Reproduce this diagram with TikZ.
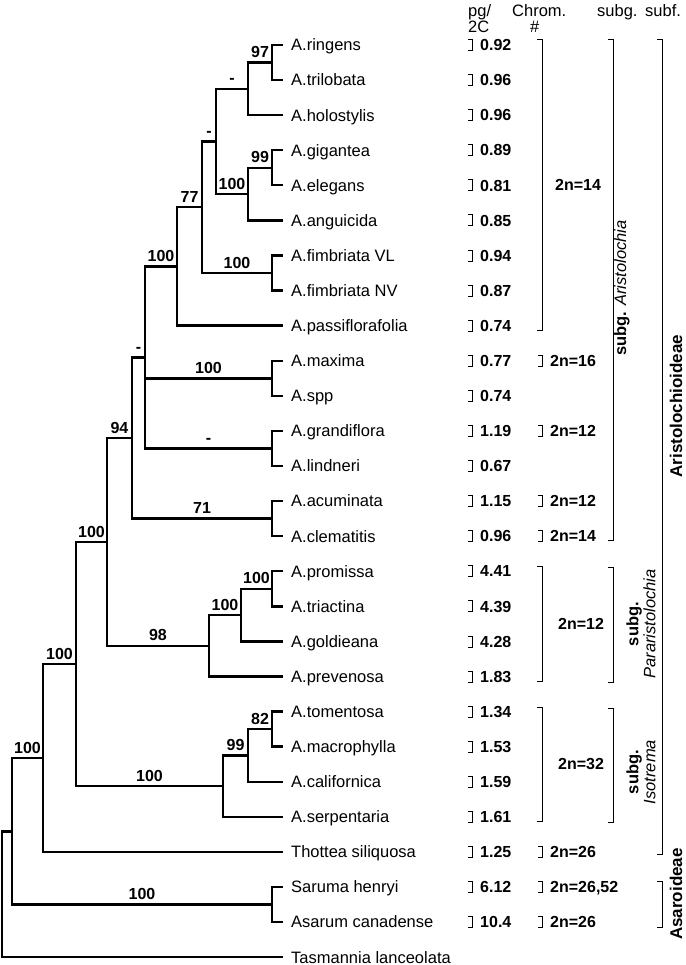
\documentclass[tikz,border=0pt]{standalone}
\usepackage{fontspec}
\setmainfont{Liberation Sans}

\begin{document}
\begin{tikzpicture}[x=1pt,y=-1pt,
  branch/.style={line width=2.4pt},
  brk/.style={line width=1pt},
  brtick/.style={line width=0.8pt},
  taxon/.style={anchor=west,inner xsep=8pt,inner ysep=0pt,text height=11.8pt,text depth=0pt,font=\fontsize{16.5}{19}\selectfont},
  supp/.style={anchor=south,inner sep=0pt,yshift=3.8pt,text height=11.5pt,text depth=0pt,font=\bfseries\fontsize{16}{19}\selectfont},
  valtext/.style={anchor=west,inner sep=0pt,text height=11.5pt,text depth=0pt,font=\bfseries\fontsize{16}{19}\selectfont},
  headtext/.style={anchor=base west,inner sep=0pt,font=\fontsize{16.5}{19}\selectfont},
  subglab/.style={rotate=90,align=center,inner sep=0pt,font=\fontsize{16.5}{17}\selectfont},
  subflab/.style={rotate=90,inner sep=0pt,font=\bfseries\fontsize{17}{20}\selectfont},
  pics/valbr/.style={code={
    \draw[brtick] (-4,-5.5) -- (0,-5.5) -- (0,5.5) -- (-4,5.5);
    \node[valtext] (-t) at (8,0) {#1};}}
]
\useasboundingbox (0,0) rectangle (685,965);

\node[headtext] (hpg) at (468,17) {pg/};
\node[headtext] (h2c) at (468,33) {2C};
\node[headtext] (hchrom) at (512,17) {Chrom.};
\node[headtext] (hnum) at (530,33) {\#};
\node[headtext] (hsubg) at (597,17) {subg.};
\node[headtext] (hsubf) at (645,17) {subf.};

% taxa
\node[taxon] (ringens) at (283,45) {A.ringens};
\node[taxon] (trilobata) at (283,80.1) {A.trilobata};
\node[taxon] (holostylis) at (283,115.2) {A.holostylis};
\node[taxon] (gigantea) at (283,150.2) {A.gigantea};
\node[taxon] (elegans) at (283,185.3) {A.elegans};
\node[taxon] (anguicida) at (283,220.4) {A.anguicida};
\node[taxon] (fimbVL) at (283,255.5) {A.fimbriata VL};
\node[taxon] (fimbNV) at (283,290.6) {A.fimbriata NV};
\node[taxon] (passiflorafolia) at (283,325.6) {A.passiflorafolia};
\node[taxon] (maxima) at (283,360.7) {A.maxima};
\node[taxon] (spp) at (283,395.8) {A.spp};
\node[taxon] (grandiflora) at (283,430.9) {A.grandiflora};
\node[taxon] (lindneri) at (283,466) {A.lindneri};
\node[taxon] (acuminata) at (283,501) {A.acuminata};
\node[taxon] (clematitis) at (283,536.1) {A.clematitis};
\node[taxon] (promissa) at (283,571.2) {A.promissa};
\node[taxon] (triactina) at (283,606.3) {A.triactina};
\node[taxon] (goldieana) at (283,641.4) {A.goldieana};
\node[taxon] (prevenosa) at (283,676.4) {A.prevenosa};
\node[taxon] (tomentosa) at (283,711.5) {A.tomentosa};
\node[taxon] (macrophylla) at (283,746.6) {A.macrophylla};
\node[taxon] (californica) at (283,781.7) {A.californica};
\node[taxon] (serpentaria) at (283,816.8) {A.serpentaria};
\node[taxon] (thottea) at (283,851.8) {Thottea siliquosa};
\node[taxon] (saruma) at (283,886.9) {Saruma henryi};
\node[taxon] (asarum) at (283,922) {Asarum canadense};
\node[taxon] (tasmannia) at (283,957.1) {Tasmannia lanceolata};

% internal nodes
\coordinate (c1) at (272,62.6);
\coordinate (c2) at (248,88.9);
\coordinate (c3) at (272,167.8);
\coordinate (c4) at (248,194.1);
\coordinate (c5) at (216,141.5);
\coordinate (c6) at (272,273.1);
\coordinate (c7) at (202,207.3);
\coordinate (c8) at (177,266.5);
\coordinate (c9) at (272,378.3);
\coordinate (c10) at (272,448.5);
\coordinate (c11) at (145,357.5);
\coordinate (c12) at (272,518.6);
\coordinate (c13) at (132,438.1);
\coordinate (c14) at (272,588.8);
\coordinate (c15) at (241,615.1);
\coordinate (c16) at (209,645.8);
\coordinate (c17) at (107,542);
\coordinate (c18) at (272,729.1);
\coordinate (c19) at (248,755.4);
\coordinate (c20) at (223,786.1);
\coordinate (c21) at (76,664.1);
\coordinate (c22) at (43,758);
\coordinate (c23) at (272,904.5);
\coordinate (c24) at (12,831.3);
\coordinate (root) at (2,894.2);

\draw[branch] (c1) |- (ringens.west);
\draw[branch] (c1) |- (trilobata.west);
\draw[branch] (c2) |- node[supp,pos=.75] (l1) {97} (c1);
\draw[branch] (c2) |- (holostylis.west);
\draw[branch] (c3) |- (gigantea.west);
\draw[branch] (c3) |- (elegans.west);
\draw[branch] (c4) |- node[supp,pos=.75] (l3) {99} (c3);
\draw[branch] (c4) |- (anguicida.west);
\draw[branch] (c5) |- node[supp,pos=.75] (l2) {-} (c2);
\draw[branch] (c5) |- node[supp,pos=.75] (l4) {100} (c4);
\draw[branch] (c6) |- (fimbVL.west);
\draw[branch] (c6) |- (fimbNV.west);
\draw[branch] (c7) |- node[supp,pos=.75] (l5) {-} (c5);
\draw[branch] (c7) |- node[supp,pos=.75] (l6) {100} (c6);
\draw[branch] (c8) |- node[supp,pos=.75] (l7) {77} (c7);
\draw[branch] (c8) |- (passiflorafolia.west);
\draw[branch] (c9) |- (maxima.west);
\draw[branch] (c9) |- (spp.west);
\draw[branch] (c10) |- (grandiflora.west);
\draw[branch] (c10) |- (lindneri.west);
\draw[branch] (c11) |- node[supp,pos=.75] (l8) {100} (c8);
\draw[branch] (c11) |- node[supp,pos=.75] (l9) {100} (c9);
\draw[branch] (c11) |- node[supp,pos=.75] (l10) {-} (c10);
\draw[branch] (c12) |- (acuminata.west);
\draw[branch] (c12) |- (clematitis.west);
\draw[branch] (c13) |- node[supp,pos=.75] (l11) {-} (c11);
\draw[branch] (c13) |- node[supp,pos=.75] (l12) {71} (c12);
\draw[branch] (c14) |- (promissa.west);
\draw[branch] (c14) |- (triactina.west);
\draw[branch] (c15) |- node[supp,pos=.75] (l14) {100} (c14);
\draw[branch] (c15) |- (goldieana.west);
\draw[branch] (c16) |- node[supp,pos=.75] (l15) {100} (c15);
\draw[branch] (c16) |- (prevenosa.west);
\draw[branch] (c17) |- node[supp,pos=.75] (l13) {94} (c13);
\draw[branch] (c17) |- node[supp,pos=.75] (l16) {98} (c16);
\draw[branch] (c18) |- (tomentosa.west);
\draw[branch] (c18) |- (macrophylla.west);
\draw[branch] (c19) |- node[supp,pos=.75] (l18) {82} (c18);
\draw[branch] (c19) |- (californica.west);
\draw[branch] (c20) |- node[supp,pos=.75] (l19) {99} (c19);
\draw[branch] (c20) |- (serpentaria.west);
\draw[branch] (c21) |- node[supp,pos=.75] (l17) {100} (c17);
\draw[branch] (c21) |- node[supp,pos=.75] (l20) {100} (c20);
\draw[branch] (c22) |- node[supp,pos=.75] (l21) {100} (c21);
\draw[branch] (c22) |- (thottea.west);
\draw[branch] (c23) |- (saruma.west);
\draw[branch] (c23) |- (asarum.west);
\draw[branch] (c24) |- node[supp,pos=.75] (l22) {100} (c22);
\draw[branch] (c24) |- node[supp,pos=.75] (l23) {100} (c23);
\draw[branch] (root) |- (c24);
\draw[branch] (root) |- (tasmannia.west);

% pg/2C
\pic (g1) at (472,45) {valbr=0.92};
\pic (g2) at (472,80.1) {valbr=0.96};
\pic (g3) at (472,115.2) {valbr=0.96};
\pic (g4) at (472,150.2) {valbr=0.89};
\pic (g5) at (472,185.3) {valbr=0.81};
\pic (g6) at (472,220.4) {valbr=0.85};
\pic (g7) at (472,255.5) {valbr=0.94};
\pic (g8) at (472,290.6) {valbr=0.87};
\pic (g9) at (472,325.6) {valbr=0.74};
\pic (g10) at (472,360.7) {valbr=0.77};
\pic (g11) at (472,395.8) {valbr=0.74};
\pic (g12) at (472,430.9) {valbr=1.19};
\pic (g13) at (472,466) {valbr=0.67};
\pic (g14) at (472,501) {valbr=1.15};
\pic (g15) at (472,536.1) {valbr=0.96};
\pic (g16) at (472,571.2) {valbr=4.41};
\pic (g17) at (472,606.3) {valbr=4.39};
\pic (g18) at (472,641.4) {valbr=4.28};
\pic (g19) at (472,676.4) {valbr=1.83};
\pic (g20) at (472,711.5) {valbr=1.34};
\pic (g21) at (472,746.6) {valbr=1.53};
\pic (g22) at (472,781.7) {valbr=1.59};
\pic (g23) at (472,816.8) {valbr=1.61};
\pic (g24) at (472,851.8) {valbr=1.25};
\pic (g25) at (472,886.9) {valbr=6.12};
\pic (g26) at (472,922) {valbr=10.4};

% Chrom. #
\pic (k1) at (542,360.7) {valbr={2n=16}};
\pic (k2) at (542,430.9) {valbr={2n=12}};
\pic (k3) at (542,501) {valbr={2n=12}};
\pic (k4) at (542,536.1) {valbr={2n=14}};
\pic (k5) at (542,851.8) {valbr={2n=26}};
\pic (k6) at (542,886.9) {valbr={2n=26,52}};
\pic (k7) at (542,922) {valbr={2n=26}};
\draw[brk] (537,40) -- (542,40) -- (542,330) -- (537,330);
\node[valtext] (chr14) at (555,185) {2n=14};
\draw[brk] (537,566) -- (542,566) -- (542,681) -- (537,681);
\node[valtext] (chr12) at (558,623.5) {2n=12};
\draw[brk] (537,707) -- (542,707) -- (542,821) -- (537,821);
\node[valtext] (chr32) at (558,764) {2n=32};

% subg.
\draw[brk] (608,40) -- (613,40) -- (613,540) -- (608,540);
\draw[brk] (608,567) -- (613,567) -- (613,682) -- (608,682);
\draw[brk] (608,708) -- (613,708) -- (613,822) -- (608,822);
\node[subglab] (aristo) at (622,288) {\textbf{subg.} \textit{Aristolochia}};
\node[subglab] (pararis) at (641,624) {\textbf{subg.}\\\textit{Pararistolochia}};
\node[subglab] (isotr) at (641,772) {\textbf{subg.}\\\textit{Isotrema}};

% subf.
\draw[brk] (657,40) -- (662,40) -- (662,854) -- (657,854);
\draw[brk] (657,881) -- (662,881) -- (662,927) -- (657,927);
\node[subflab] (aristoid) at (676,406) {Aristolochioideae};
\node[subflab] (asaroid) at (676,894) {Asaroideae};

\end{tikzpicture}
\end{document}
